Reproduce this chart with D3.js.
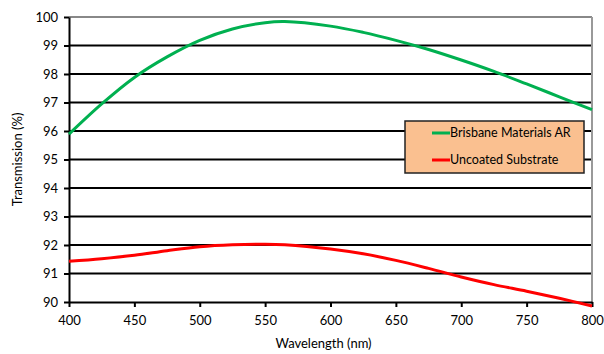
<!DOCTYPE html>
<html>
<head>
<meta charset="utf-8">
<script src="https://cdn.jsdelivr.net/npm/d3@7"></script>
<style>
  body { margin: 0; background: #fff; }
  text { font-family: Lato, "Open Sans", sans-serif; fill: #000; }
</style>
</head>
<body>
<div id="chart"></div>
<script>
//************* data ***************/
var wavelengths = [400, 425, 450, 475, 500, 525, 550, 565, 600, 625, 650, 675, 700, 725, 750, 775, 800];
var arValues    = [95.89, 96.95, 97.88, 98.6, 99.18, 99.58, 99.8, 99.84, 99.68, 99.46, 99.18, 98.86, 98.49, 98.09, 97.65, 97.2, 96.75];
var bareValues  = [91.43, 91.52, 91.64, 91.8, 91.94, 92.01, 92.03, 92.01, 91.86, 91.69, 91.46, 91.18, 90.88, 90.61, 90.38, 90.13, 89.86];
var seriesNames = ["Brisbane Materials AR", "Uncoated Substrate"];
var xTicks = [400, 450, 500, 550, 600, 650, 700, 750, 800];
var yTicks = [90, 91, 92, 93, 94, 95, 96, 97, 98, 99, 100];

//************* set dimensions ***************/
var margin = {left: 69, right: 12, top: 17, bottom: 52};
var width = 604 - margin.left - margin.right,
    height = 354 - margin.top - margin.bottom;

var svg = d3.select("#chart")
  .append("svg")
    .attr("width", 604)
    .attr("height", 354)
  .append("g")
    .attr("transform", "translate(" + margin.left + "," + margin.top + ")");

//************* scales ***************/
var x = d3.scaleLinear().domain([400, 800]).range([0, width]);
var y = d3.scaleLinear().domain([90, 100]).range([height, 0]);

// gridlines
svg.append("g")
  .selectAll("line")
  .data(yTicks.filter(function(d){ return d > 90; }))
  .enter()
  .append("line")
    .attr("x1", 0).attr("x2", width)
    .attr("y1", function(d){ return y(d); })
    .attr("y2", function(d){ return y(d); })
    .attr("stroke", function(d){ return d == 100 ? "#888" : "#000"; })
    .attr("stroke-width", 2);

// right border
svg.append("line")
  .attr("x1", width).attr("x2", width)
  .attr("y1", 0).attr("y2", height)
  .attr("stroke", "#999").attr("stroke-width", 2);

// axes
var xAxis = svg.append("g")
  .attr("transform", "translate(0," + height + ")")
  .call(d3.axisBottom(x).tickValues(xTicks).tickSize(5).tickPadding(9).tickSizeOuter(0));
var yAxis = svg.append("g")
  .call(d3.axisLeft(y).tickValues(yTicks).tickSize(5).tickPadding(6).tickSizeOuter(0));

[xAxis, yAxis].forEach(function(a){
  a.select(".domain").attr("stroke", "#000").attr("stroke-width", 2);
  a.selectAll(".tick line").attr("stroke", "#000").attr("stroke-width", 2);
  a.selectAll("text").style("font-size", "13px").style("font-family", "Lato, 'Open Sans', sans-serif");
});

// curves
var line = d3.line().curve(d3.curveCatmullRom.alpha(0.5))
  .x(function(d){ return x(d[0]); })
  .y(function(d){ return y(d[1]); });

svg.append("path")
  .datum(wavelengths.map(function(w, i){ return [w, bareValues[i]]; }))
  .attr("fill", "none").attr("stroke", "#ff0000").attr("stroke-width", 3)
  .attr("d", line);

svg.append("path")
  .datum(wavelengths.map(function(w, i){ return [w, arValues[i]]; }))
  .attr("fill", "none").attr("stroke", "#00b050").attr("stroke-width", 3)
  .attr("d", line);

// axis titles
svg.append("text")
  .attr("x", width / 2 - 7).attr("y", height + 46)
  .attr("text-anchor", "middle")
  .style("font-size", "13px")
  .text("Wavelength (nm)");

svg.append("text")
  .attr("transform", "translate(-47," + (height / 2) + ") rotate(-90)")
  .attr("text-anchor", "middle")
  .style("font-size", "13px")
  .text("Transmission (%)");

//************* legend ***************/
var legend = svg.append("g").attr("transform", "translate(" + (405 - margin.left) + "," + (121 - margin.top) + ")");
legend.append("rect")
  .attr("width", 179).attr("height", 52)
  .attr("fill", "#fac090").attr("stroke", "#222").attr("stroke-width", 1.5);

var colors = ["#00b050", "#ff0000"];
seriesNames.forEach(function(name, i){
  var ly = 12 + i * 27;
  legend.append("line")
    .attr("x1", 27).attr("x2", 45).attr("y1", ly).attr("y2", ly)
    .attr("stroke", colors[i]).attr("stroke-width", 3);
  legend.append("text")
    .attr("x", 45).attr("y", ly)
    .attr("dy", "0.35em")
    .style("font-size", "12.5px")
    .text(name);
});
</script>
</body>
</html>
